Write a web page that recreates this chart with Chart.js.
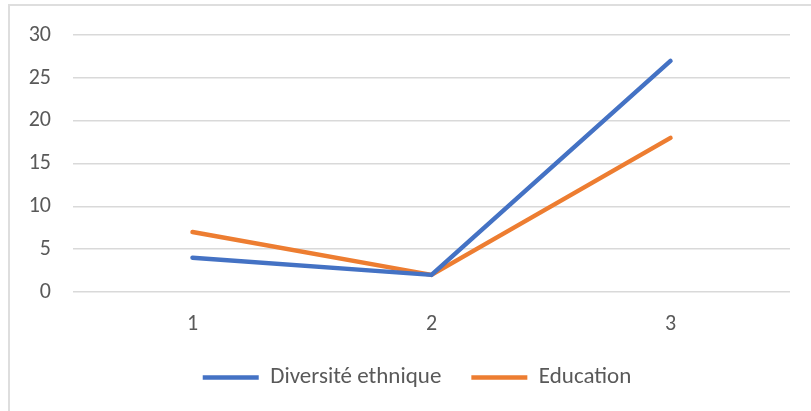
<!DOCTYPE html>
<html>
<head>
<meta charset="utf-8">
<script src="https://cdn.jsdelivr.net/npm/chart.js@4"></script>
<style>
    body { margin: 0; background: #ffffff; }
    #wrap { position: relative; width: 811px; height: 411px; overflow: hidden; }
    #frame { position: absolute; left: 8px; top: 4px; width: 900px; height: 500px; border: 2px solid #dedede; }
    #myChart { position: absolute; left: 0; top: 0; }
</style>
</head>
<body>
<div id="wrap">
    <div id="frame"></div>
    <canvas id="myChart" width="811" height="411"></canvas>
</div>
<script>
// chart values
const categories = ["1", "2", "3"];
const seriesNames = ["Diversité ethnique", "Education"];
const diversite = [4, 2, 27];
const education = [7, 2, 18];
const yTicks = [0, 5, 10, 15, 20, 25, 30];

const fontFamily = "Carlito, Calibri, Lato, sans-serif";
const textColor = "#595959";

// legend in the original sits a bit right of the plot centre
const shiftLegend = {
    id: "shiftLegend",
    afterLayout(chart) {
        chart.legend.left += 22;
        chart.legend.right += 22;
    }
};

function createChart() {
    const ctx = document.getElementById("myChart");

    new Chart(ctx, {
        type: "line",
        data: {
            labels: categories,
            datasets: [
                {
                    label: seriesNames[0],
                    data: diversite,
                    borderColor: "#4472C4",
                    backgroundColor: "#4472C4",
                    borderWidth: 4.5,
                    borderCapStyle: "round",
                    borderJoinStyle: "round",
                    pointRadius: 0,
                    fill: false,
                    tension: 0,
                },
                {
                    label: seriesNames[1],
                    data: education,
                    borderColor: "#ED7D31",
                    backgroundColor: "#ED7D31",
                    borderWidth: 4.5,
                    borderCapStyle: "round",
                    borderJoinStyle: "round",
                    pointRadius: 0,
                    fill: false,
                    tension: 0,
                }
            ]
        },
        options: {
            responsive: false,
            animation: false,
            layout: {
                padding: { top: 34, right: 21, bottom: 12, left: 0 }
            },
            scales: {
                x: {
                    offset: true,
                    grid: { display: false, drawTicks: false },
                    border: { display: false },
                    ticks: {
                        color: textColor,
                        padding: 19,
                        font: { family: fontFamily, size: 22 }
                    },
                    afterFit: function(axis) { axis.height = 44; }
                },
                y: {
                    min: yTicks[0],
                    max: yTicks[yTicks.length - 1],
                    grid: { color: "#d9d9d9", lineWidth: 1.5, drawTicks: false },
                    border: { display: false },
                    ticks: {
                        stepSize: 5,
                        color: textColor,
                        padding: 22,
                        font: { family: fontFamily, size: 22 }
                    },
                    afterFit: function(axis) { axis.width = 73; }
                }
            },
            plugins: {
                tooltip: { enabled: false },
                legend: {
                    position: "bottom",
                    labels: {
                        usePointStyle: true,
                        pointStyle: "line",
                        pointStyleWidth: 56,
                        padding: 30,
                        color: textColor,
                        font: { family: fontFamily, size: 23 }
                    }
                }
            }
        },
        plugins: [shiftLegend]
    });
}
createChart();
</script>
</body>
</html>
